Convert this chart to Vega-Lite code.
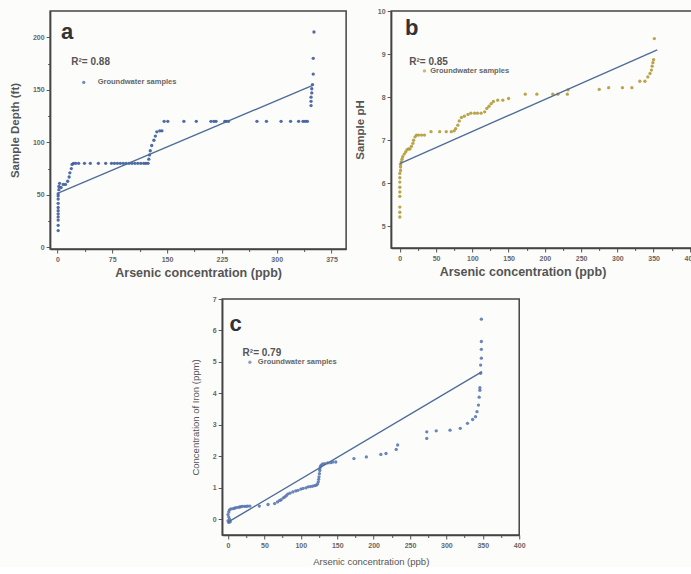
{
  "$schema": "https://vega.github.io/schema/vega-lite/v6.json",
  "background": "#fcfcfb",
  "padding": {"left": 8, "top": 6, "right": 0, "bottom": 0},
  "datasets": {
    "a_pts": [
      {"x": 1, "y": 16}, {"x": 1, "y": 21}, {"x": 1, "y": 26}, {"x": 1, "y": 29}, {"x": 1, "y": 32}, {"x": 1, "y": 35}, {"x": 1, "y": 38}, {"x": 1, "y": 42}, {"x": 1, "y": 46}, {"x": 1, "y": 49}, {"x": 1, "y": 51}, {"x": 2, "y": 55}, {"x": 2, "y": 58}, {"x": 3, "y": 61},
      {"x": 5, "y": 57}, {"x": 8, "y": 60}, {"x": 11, "y": 60}, {"x": 14, "y": 63}, {"x": 16, "y": 67}, {"x": 17, "y": 71}, {"x": 19, "y": 75}, {"x": 20, "y": 79},
      {"x": 22, "y": 80}, {"x": 25, "y": 80}, {"x": 29, "y": 80}, {"x": 37, "y": 80}, {"x": 45, "y": 80}, {"x": 56, "y": 80}, {"x": 66, "y": 80}, {"x": 74, "y": 80}, {"x": 78, "y": 80}, {"x": 82, "y": 80}, {"x": 86, "y": 80}, {"x": 90, "y": 80}, {"x": 94, "y": 80}, {"x": 98, "y": 80}, {"x": 102, "y": 80}, {"x": 106, "y": 80}, {"x": 110, "y": 80}, {"x": 114, "y": 80}, {"x": 118, "y": 80}, {"x": 121, "y": 80}, {"x": 124, "y": 80},
      {"x": 125, "y": 84}, {"x": 126, "y": 88}, {"x": 127, "y": 92}, {"x": 129, "y": 97}, {"x": 132, "y": 102}, {"x": 134, "y": 106}, {"x": 136, "y": 110}, {"x": 140, "y": 111}, {"x": 143, "y": 111},
      {"x": 146, "y": 120}, {"x": 151, "y": 120}, {"x": 173, "y": 120}, {"x": 190, "y": 120}, {"x": 210, "y": 120}, {"x": 214, "y": 120}, {"x": 217, "y": 120}, {"x": 229, "y": 120}, {"x": 231, "y": 120}, {"x": 234, "y": 120}, {"x": 273, "y": 120}, {"x": 286, "y": 120}, {"x": 306, "y": 120}, {"x": 319, "y": 120}, {"x": 330, "y": 120}, {"x": 336, "y": 120}, {"x": 339, "y": 120}, {"x": 342, "y": 120},
      {"x": 347, "y": 135}, {"x": 347, "y": 139}, {"x": 347, "y": 143}, {"x": 348, "y": 147}, {"x": 348, "y": 151}, {"x": 349, "y": 155}, {"x": 350, "y": 165}, {"x": 350, "y": 180}, {"x": 351, "y": 205}
    ],
    "a_fit": [{"x": 0, "y": 51.5}, {"x": 350, "y": 154.5}],
    "b_pts": [
      {"x": 0, "y": 5.22}, {"x": 0, "y": 5.33}, {"x": 0, "y": 5.45}, {"x": 0, "y": 5.7}, {"x": 0, "y": 5.8}, {"x": 0, "y": 5.91}, {"x": 0, "y": 6.03}, {"x": 0, "y": 6.13}, {"x": 0, "y": 6.23}, {"x": 1, "y": 6.3}, {"x": 1, "y": 6.38}, {"x": 1, "y": 6.44}, {"x": 2, "y": 6.5},
      {"x": 3, "y": 6.56}, {"x": 4, "y": 6.62}, {"x": 6, "y": 6.68}, {"x": 8, "y": 6.73}, {"x": 10, "y": 6.78}, {"x": 12, "y": 6.8}, {"x": 14, "y": 6.8}, {"x": 16, "y": 6.86}, {"x": 18, "y": 6.93}, {"x": 19, "y": 7.0}, {"x": 21, "y": 7.08}, {"x": 23, "y": 7.12}, {"x": 26, "y": 7.12}, {"x": 30, "y": 7.12}, {"x": 34, "y": 7.12},
      {"x": 43, "y": 7.2}, {"x": 55, "y": 7.2}, {"x": 64, "y": 7.2}, {"x": 71, "y": 7.2}, {"x": 75, "y": 7.22}, {"x": 77, "y": 7.27}, {"x": 80, "y": 7.35}, {"x": 82, "y": 7.45}, {"x": 85, "y": 7.53}, {"x": 89, "y": 7.56}, {"x": 94, "y": 7.6}, {"x": 98, "y": 7.63}, {"x": 103, "y": 7.63}, {"x": 107, "y": 7.63}, {"x": 112, "y": 7.63}, {"x": 117, "y": 7.66}, {"x": 120, "y": 7.74}, {"x": 123, "y": 7.79}, {"x": 126, "y": 7.85}, {"x": 129, "y": 7.9}, {"x": 135, "y": 7.93}, {"x": 142, "y": 7.93}, {"x": 150, "y": 7.97},
      {"x": 173, "y": 8.07}, {"x": 189, "y": 8.07}, {"x": 211, "y": 8.07}, {"x": 218, "y": 8.07}, {"x": 231, "y": 8.07}, {"x": 232, "y": 8.17}, {"x": 275, "y": 8.18}, {"x": 288, "y": 8.22}, {"x": 307, "y": 8.22}, {"x": 320, "y": 8.22}, {"x": 331, "y": 8.37}, {"x": 338, "y": 8.37}, {"x": 342, "y": 8.47}, {"x": 345, "y": 8.55}, {"x": 347, "y": 8.63}, {"x": 348, "y": 8.72}, {"x": 349, "y": 8.8}, {"x": 350, "y": 8.87}, {"x": 351, "y": 9.36}
    ],
    "b_fit": [{"x": 0, "y": 6.46}, {"x": 355, "y": 9.1}],
    "c_pts": [
      {"x": 0, "y": -0.05}, {"x": 1, "y": -0.1}, {"x": 3, "y": -0.08}, {"x": 2, "y": 0.0}, {"x": 1, "y": 0.07}, {"x": 0, "y": 0.15}, {"x": 1, "y": 0.23}, {"x": 2, "y": 0.3}, {"x": 4, "y": 0.33}, {"x": 7, "y": 0.34}, {"x": 9, "y": 0.35}, {"x": 11, "y": 0.37}, {"x": 14, "y": 0.38}, {"x": 16, "y": 0.39}, {"x": 18, "y": 0.4}, {"x": 20, "y": 0.41}, {"x": 23, "y": 0.41}, {"x": 25, "y": 0.41}, {"x": 27, "y": 0.42}, {"x": 30, "y": 0.42},
      {"x": 43, "y": 0.42}, {"x": 55, "y": 0.47}, {"x": 64, "y": 0.5}, {"x": 68, "y": 0.55}, {"x": 71, "y": 0.6}, {"x": 73, "y": 0.62}, {"x": 76, "y": 0.68}, {"x": 78, "y": 0.71}, {"x": 80, "y": 0.75}, {"x": 82, "y": 0.8}, {"x": 85, "y": 0.83}, {"x": 89, "y": 0.87}, {"x": 93, "y": 0.9}, {"x": 96, "y": 0.92}, {"x": 100, "y": 0.96}, {"x": 103, "y": 0.98}, {"x": 107, "y": 1.0}, {"x": 110, "y": 1.03}, {"x": 113, "y": 1.04}, {"x": 116, "y": 1.05}, {"x": 119, "y": 1.07}, {"x": 121, "y": 1.08}, {"x": 123, "y": 1.12}, {"x": 124, "y": 1.19}, {"x": 124.5, "y": 1.27}, {"x": 125, "y": 1.35}, {"x": 125.5, "y": 1.45}, {"x": 126, "y": 1.55}, {"x": 126, "y": 1.61}, {"x": 127, "y": 1.68}, {"x": 128, "y": 1.72}, {"x": 130, "y": 1.76}, {"x": 133, "y": 1.77}, {"x": 137, "y": 1.79}, {"x": 141, "y": 1.8}, {"x": 144, "y": 1.82}, {"x": 148, "y": 1.82},
      {"x": 173, "y": 1.93}, {"x": 190, "y": 1.98}, {"x": 210, "y": 2.06}, {"x": 217, "y": 2.09}, {"x": 231, "y": 2.22}, {"x": 233, "y": 2.36}, {"x": 273, "y": 2.57}, {"x": 273, "y": 2.78}, {"x": 286, "y": 2.81}, {"x": 305, "y": 2.83}, {"x": 319, "y": 2.89}, {"x": 329, "y": 3.05}, {"x": 336, "y": 3.17}, {"x": 340, "y": 3.26}, {"x": 342, "y": 3.42}, {"x": 344, "y": 3.63}, {"x": 345, "y": 3.88}, {"x": 346, "y": 4.1}, {"x": 346, "y": 4.18}, {"x": 347, "y": 4.64}, {"x": 347, "y": 4.9}, {"x": 348, "y": 5.12}, {"x": 348, "y": 5.4}, {"x": 348, "y": 5.65}, {"x": 348, "y": 6.36}
    ],
    "c_fit": [{"x": 0, "y": -0.09}, {"x": 349, "y": 4.69}]
  },
  "vconcat": [
    {
      "hconcat": [
        {
          "width": 296, "height": 238,
          "layer": [
            {
              "data": {"name": "a_pts"},
              "mark": {"type": "point", "filled": true, "size": 11, "color": "#3d5c9c", "opacity": 0.9},
              "encoding": {
                "x": {"field": "x", "type": "quantitative",
                  "scale": {"domain": [-10, 395], "nice": false, "zero": false},
                  "axis": {"title": "Arsenic concentration (ppb)", "values": [0, 37.5, 75, 112.5, 150, 187.5, 225, 262.5, 300, 337.5, 375], "tickCount": 100, "format": "d",
                    "labelExpr": "datum.value % 75 === 0 ? datum.label : ''",
                    "tickSize": {"condition": {"test": "datum.value % 75 === 0", "value": 4}, "value": 2.5},
                    "titleFontSize": 12.5, "titlePadding": 4}},
                "y": {"field": "y", "type": "quantitative",
                  "scale": {"domain": [-1.5, 225], "nice": false, "zero": false},
                  "axis": {"title": "Sample Depth (ft)", "values": [0, 25, 50, 75, 100, 125, 150, 175, 200], "tickCount": 100, "format": "d",
                    "labelExpr": "datum.value % 50 === 0 ? datum.label : ''",
                    "tickSize": {"condition": {"test": "datum.value % 50 === 0", "value": 4}, "value": 2.5},
                    "titleFontSize": 11.5, "titlePadding": 12}}
              }
            },
            {
              "data": {"name": "a_fit"},
              "mark": {"type": "line", "color": "#4f6d99", "strokeWidth": 1.4},
              "encoding": {"x": {"field": "x", "type": "quantitative"}, "y": {"field": "y", "type": "quantitative"}}
            },
            {
              "data": {"values": [{}]},
              "mark": {"type": "text", "text": "a", "fontSize": 22, "fontWeight": "bold", "align": "left", "baseline": "middle", "color": "#333"},
              "encoding": {"x": {"datum": 5, "type": "quantitative"}, "y": {"datum": 205, "type": "quantitative"}}
            },
            {
              "data": {"values": [{}]},
              "mark": {"type": "text", "text": "R²= 0.88", "fontSize": 10, "fontWeight": "bold", "align": "left", "baseline": "middle", "color": "#555"},
              "encoding": {"x": {"datum": 19, "type": "quantitative"}, "y": {"datum": 176, "type": "quantitative"}}
            },
            {
              "data": {"values": [{}]},
              "mark": {"type": "point", "filled": true, "size": 11, "color": "#3d5c9c"},
              "encoding": {"x": {"datum": 36, "type": "quantitative"}, "y": {"datum": 157, "type": "quantitative"}}
            },
            {
              "data": {"values": [{}]},
              "mark": {"type": "text", "text": "Groundwater samples", "fontSize": 7.5, "fontWeight": "bold", "align": "left", "baseline": "middle", "color": "#666"},
              "encoding": {"x": {"datum": 55, "type": "quantitative"}, "y": {"datum": 157, "type": "quantitative"}}
            }
          ]
        },
        {
          "width": 306, "height": 237,
          "layer": [
            {
              "data": {"name": "b_pts"},
              "mark": {"type": "point", "filled": true, "size": 11, "color": "#b39a3a", "opacity": 0.9},
              "encoding": {
                "x": {"field": "x", "type": "quantitative",
                  "scale": {"domain": [-12, 410], "nice": false, "zero": false},
                  "axis": {"title": "Arsenic concentration (ppb)", "values": [0, 25, 50, 75, 100, 125, 150, 175, 200, 225, 250, 275, 300, 325, 350, 375, 400], "tickCount": 100, "format": "d",
                    "labelExpr": "datum.value % 50 === 0 ? datum.label : ''",
                    "tickSize": {"condition": {"test": "datum.value % 50 === 0", "value": 4}, "value": 2.5},
                    "titleFontSize": 12.5, "titlePadding": 4, "titleAnchor": "start", "titleX": 48}},
                "y": {"field": "y", "type": "quantitative",
                  "scale": {"domain": [4.5, 10], "nice": false, "zero": false},
                  "axis": {"title": "Sample pH", "values": [5, 5.5, 6, 6.5, 7, 7.5, 8, 8.5, 9, 9.5, 10], "tickCount": 100, "format": "d",
                    "labelExpr": "datum.value % 1 === 0 ? datum.label : ''",
                    "tickSize": {"condition": {"test": "datum.value % 1 === 0", "value": 4}, "value": 2.5},
                    "titleFontSize": 11.5, "titlePadding": 12}}
              }
            },
            {
              "data": {"name": "b_fit"},
              "mark": {"type": "line", "color": "#4f6d99", "strokeWidth": 1.4},
              "encoding": {"x": {"field": "x", "type": "quantitative"}, "y": {"field": "y", "type": "quantitative"}}
            },
            {
              "data": {"values": [{}]},
              "mark": {"type": "text", "text": "b", "fontSize": 22, "fontWeight": "bold", "align": "left", "baseline": "middle", "color": "#333"},
              "encoding": {"x": {"datum": 7, "type": "quantitative"}, "y": {"datum": 9.6, "type": "quantitative"}}
            },
            {
              "data": {"values": [{}]},
              "mark": {"type": "text", "text": "R²= 0.85", "fontSize": 10, "fontWeight": "bold", "align": "left", "baseline": "middle", "color": "#555"},
              "encoding": {"x": {"datum": 13, "type": "quantitative"}, "y": {"datum": 8.82, "type": "quantitative"}}
            },
            {
              "data": {"values": [{}]},
              "mark": {"type": "point", "filled": true, "size": 11, "color": "#b39a3a"},
              "encoding": {"x": {"datum": 34, "type": "quantitative"}, "y": {"datum": 8.61, "type": "quantitative"}}
            },
            {
              "data": {"values": [{}]},
              "mark": {"type": "text", "text": "Groundwater samples", "fontSize": 7.5, "fontWeight": "bold", "align": "left", "baseline": "middle", "color": "#666"},
              "encoding": {"x": {"datum": 42, "type": "quantitative"}, "y": {"datum": 8.61, "type": "quantitative"}}
            }
          ]
        }
      ],
      "spacing": 6
    },
    {
      "width": 297, "height": 236,
      "layer": [
        {
          "data": {"name": "c_pts"},
          "mark": {"type": "point", "filled": true, "size": 11, "color": "#5a78b0", "opacity": 0.9},
          "encoding": {
            "x": {"field": "x", "type": "quantitative",
              "scale": {"domain": [-8, 400], "nice": false, "zero": false},
              "axis": {"title": "Arsenic concentration (ppb)", "values": [0, 25, 50, 75, 100, 125, 150, 175, 200, 225, 250, 275, 300, 325, 350, 375, 400], "tickCount": 100, "format": "d",
                "labelExpr": "datum.value % 50 === 0 ? datum.label : ''",
                "tickSize": {"condition": {"test": "datum.value % 50 === 0", "value": 4}, "value": 2.5},
                "titleFontSize": 9.5, "titleFontWeight": "normal", "titlePadding": 8}},
            "y": {"field": "y", "type": "quantitative",
              "scale": {"domain": [-0.5, 7], "nice": false, "zero": false},
              "axis": {"title": "Concentration of Iron (ppm)", "values": [0, 0.5, 1, 1.5, 2, 2.5, 3, 3.5, 4, 4.5, 5, 5.5, 6, 6.5, 7], "tickCount": 100, "format": "d",
                "labelExpr": "datum.value % 1 === 0 ? datum.label : ''",
                "tickSize": {"condition": {"test": "datum.value % 1 === 0", "value": 4}, "value": 2.5},
                "titleFontSize": 9.5, "titleFontWeight": "normal", "titlePadding": 12}}
          }
        },
        {
          "data": {"name": "c_fit"},
          "mark": {"type": "line", "color": "#4f6d99", "strokeWidth": 1.4},
          "encoding": {"x": {"field": "x", "type": "quantitative"}, "y": {"field": "y", "type": "quantitative"}}
        },
        {
          "data": {"values": [{}]},
          "mark": {"type": "text", "text": "c", "fontSize": 22, "fontWeight": "bold", "align": "left", "baseline": "middle", "color": "#333"},
          "encoding": {"x": {"datum": 2, "type": "quantitative"}, "y": {"datum": 6.2, "type": "quantitative"}}
        },
        {
          "data": {"values": [{}]},
          "mark": {"type": "text", "text": "R²= 0.79", "fontSize": 10, "fontWeight": "bold", "align": "left", "baseline": "middle", "color": "#555"},
          "encoding": {"x": {"datum": 20, "type": "quantitative"}, "y": {"datum": 5.28, "type": "quantitative"}}
        },
        {
          "data": {"values": [{}]},
          "mark": {"type": "point", "filled": true, "size": 11, "color": "#5a78b0"},
          "encoding": {"x": {"datum": 30, "type": "quantitative"}, "y": {"datum": 4.99, "type": "quantitative"}}
        },
        {
          "data": {"values": [{}]},
          "mark": {"type": "text", "text": "Groundwater samples", "fontSize": 7.5, "fontWeight": "bold", "align": "left", "baseline": "middle", "color": "#666"},
          "encoding": {"x": {"datum": 41, "type": "quantitative"}, "y": {"datum": 4.99, "type": "quantitative"}}
        }
      ]
    }
  ],
  "spacing": 14,
  "center": true,
  "config": {
    "font": "Liberation Sans",
    "view": {"stroke": "#444", "strokeWidth": 1.5},
    "axis": {
      "grid": false,
      "domainColor": "#444", "domainWidth": 1.5,
      "tickColor": "#555", "tickWidth": 1,
      "labelFont": "Liberation Sans", "labelFontSize": 7, "labelFontWeight": "bold", "labelColor": "#666", "labelPadding": 2,
      "labelOverlap": false, "labelFlush": false,
      "titleFont": "Liberation Sans", "titleFontWeight": "bold", "titleColor": "#555"
    }
  }
}
